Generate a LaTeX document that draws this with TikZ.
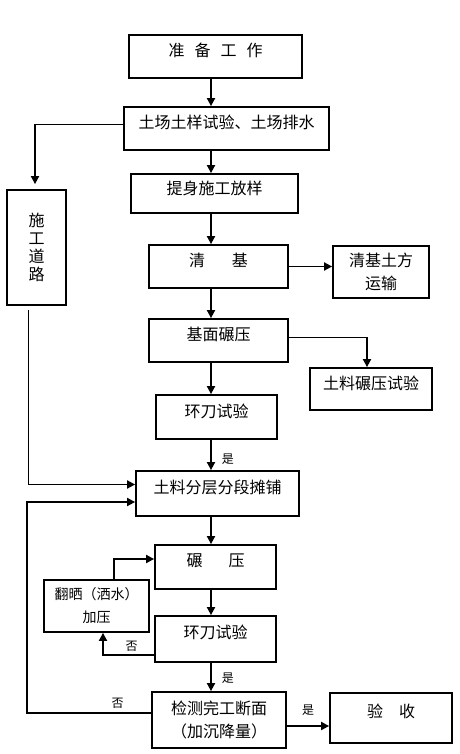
\documentclass[tikz,border=0pt]{standalone}
\usepackage{fontspec}
\newfontfamily\cjk{Noto Sans CJK SC}
\usetikzlibrary{arrows.meta}

\begin{document}
\begin{tikzpicture}[x=1pt,y=-1pt,
    box/.style={draw,line width=1.8pt,inner sep=0pt,align=center,font=\cjk\fontsize{16pt}{23pt}\selectfont},
    oneline/.style={box,text height=10pt,text depth=10pt},
    arr/.style={line width=1.8pt,-{Triangle[length=8pt,width=8pt]}},
    tag/.style={inner sep=1pt,font=\cjk\fontsize{12pt}{14pt}\selectfont}]
                \useasboundingbox (0,0) rectangle (459,754);
                \coordinate (mid) at (211,0);
                \node[oneline,minimum width=173,minimum height=43] (prep) at (215.5,56.5) {准\hspace{10pt}备\hspace{10pt}工\hspace{10pt}作};
                \node[oneline,minimum width=205,minimum height=43] (soil) at (226.5,128.5) {土场土样试验、土场排水};
                \node[oneline,minimum width=167,minimum height=39,text depth=8pt] (stake) at (214.5,193.5) {提身施工放样};
                \node[box,minimum width=59,minimum height=115,font=\cjk\fontsize{16pt}{18pt}\selectfont] (road) at (36.5,247.5) {施\\工\\道\\路};
                \node[oneline,minimum width=139,minimum height=43] (clear) at (218.5,266.5) {清\hspace{27pt}基};
                \node[box,minimum width=96,minimum height=52] (haul) at (381,272) {清基土方\\运输};
                \node[oneline,minimum width=139,minimum height=43] (base) at (218.5,340.5) {基面碾压};
                \node[oneline,minimum width=122,minimum height=42] (test) at (371,389) {土料碾压试验};
                \node[oneline,minimum width=121,minimum height=44] (ring1) at (216.5,417) {环刀试验};
                \node[oneline,minimum width=163,minimum height=45] (spread) at (217.5,493.5) {土料分层分段摊铺};
                \node[oneline,minimum width=121,minimum height=44,text depth=11pt] (roll) at (215.5,567) {碾\hspace{26pt}压};
                \node[box,minimum width=105,minimum height=52,font=\cjk\fontsize{14pt}{23pt}\selectfont] (wet) at (96.5,606) {翻晒（洒水）\\加压};
                \node[oneline,minimum width=121,minimum height=46,text depth=11pt] (ring2) at (215.5,639) {环刀试验};
                \node[box,minimum width=134,minimum height=56] (check) at (219,720) {检测完工断面\\（加沉降量）};
                \node[oneline,minimum width=122,minimum height=50,text depth=12pt] (accept) at (391,718) {验\hspace{16pt}收};
                \draw[arr] (prep.south -| mid) -- (soil.north -| mid);
                \draw[arr] (soil.south -| mid) -- (stake.north -| mid);
                \draw[arr] (stake.south -| mid) -- (clear.north -| mid);
                \draw[arr] (clear.south -| mid) -- (base.north -| mid);
                \draw[arr] (base.south -| mid) -- (ring1.north -| mid);
                \draw[arr] (ring1.south -| mid) -- node[tag,pos=0.65,right=9pt]{是} (spread.north -| mid);
                \draw[arr] (spread.south -| mid) -- (roll.north -| mid);
                \draw[arr] (roll.south -| mid) -- (ring2.north -| mid);
                \draw[arr] (ring2.south -| mid) -- node[tag,pos=0.55,right=9pt]{是} (check.north -| mid);
                \draw[arr] ([yshift=4pt]soil.west) -| ([xshift=-1.5pt,yshift=5pt]road.north);
                \draw[arr] (clear.east) -- (clear.east -| haul.west);
                \draw[arr] ([yshift=3pt]base.east) -| ([xshift=-4pt]test.north);
                \draw[arr] ([xshift=-8pt,yshift=-4pt]road.south) |- ([yshift=9pt]spread.west);
                \draw[arr] ([xshift=17.5pt]wet.north) |- ([yshift=8pt]roll.west);
                \draw[arr] ([yshift=-16pt]ring2.west) -| node[tag,pos=0.22,above=2pt]{否} ([xshift=6.5pt]wet.south);
                \draw[arr] ([yshift=7pt]check.west) -- node[tag,pos=0.27,above=3pt]{否} ++(-124,0) |- ([yshift=-8.5pt]spread.west);
                \draw[arr] ([yshift=-6pt]check.east) -- node[tag,above=9pt]{是} ([yshift=-6pt]check.east -| accept.west);
            \end{tikzpicture}
\end{document}
